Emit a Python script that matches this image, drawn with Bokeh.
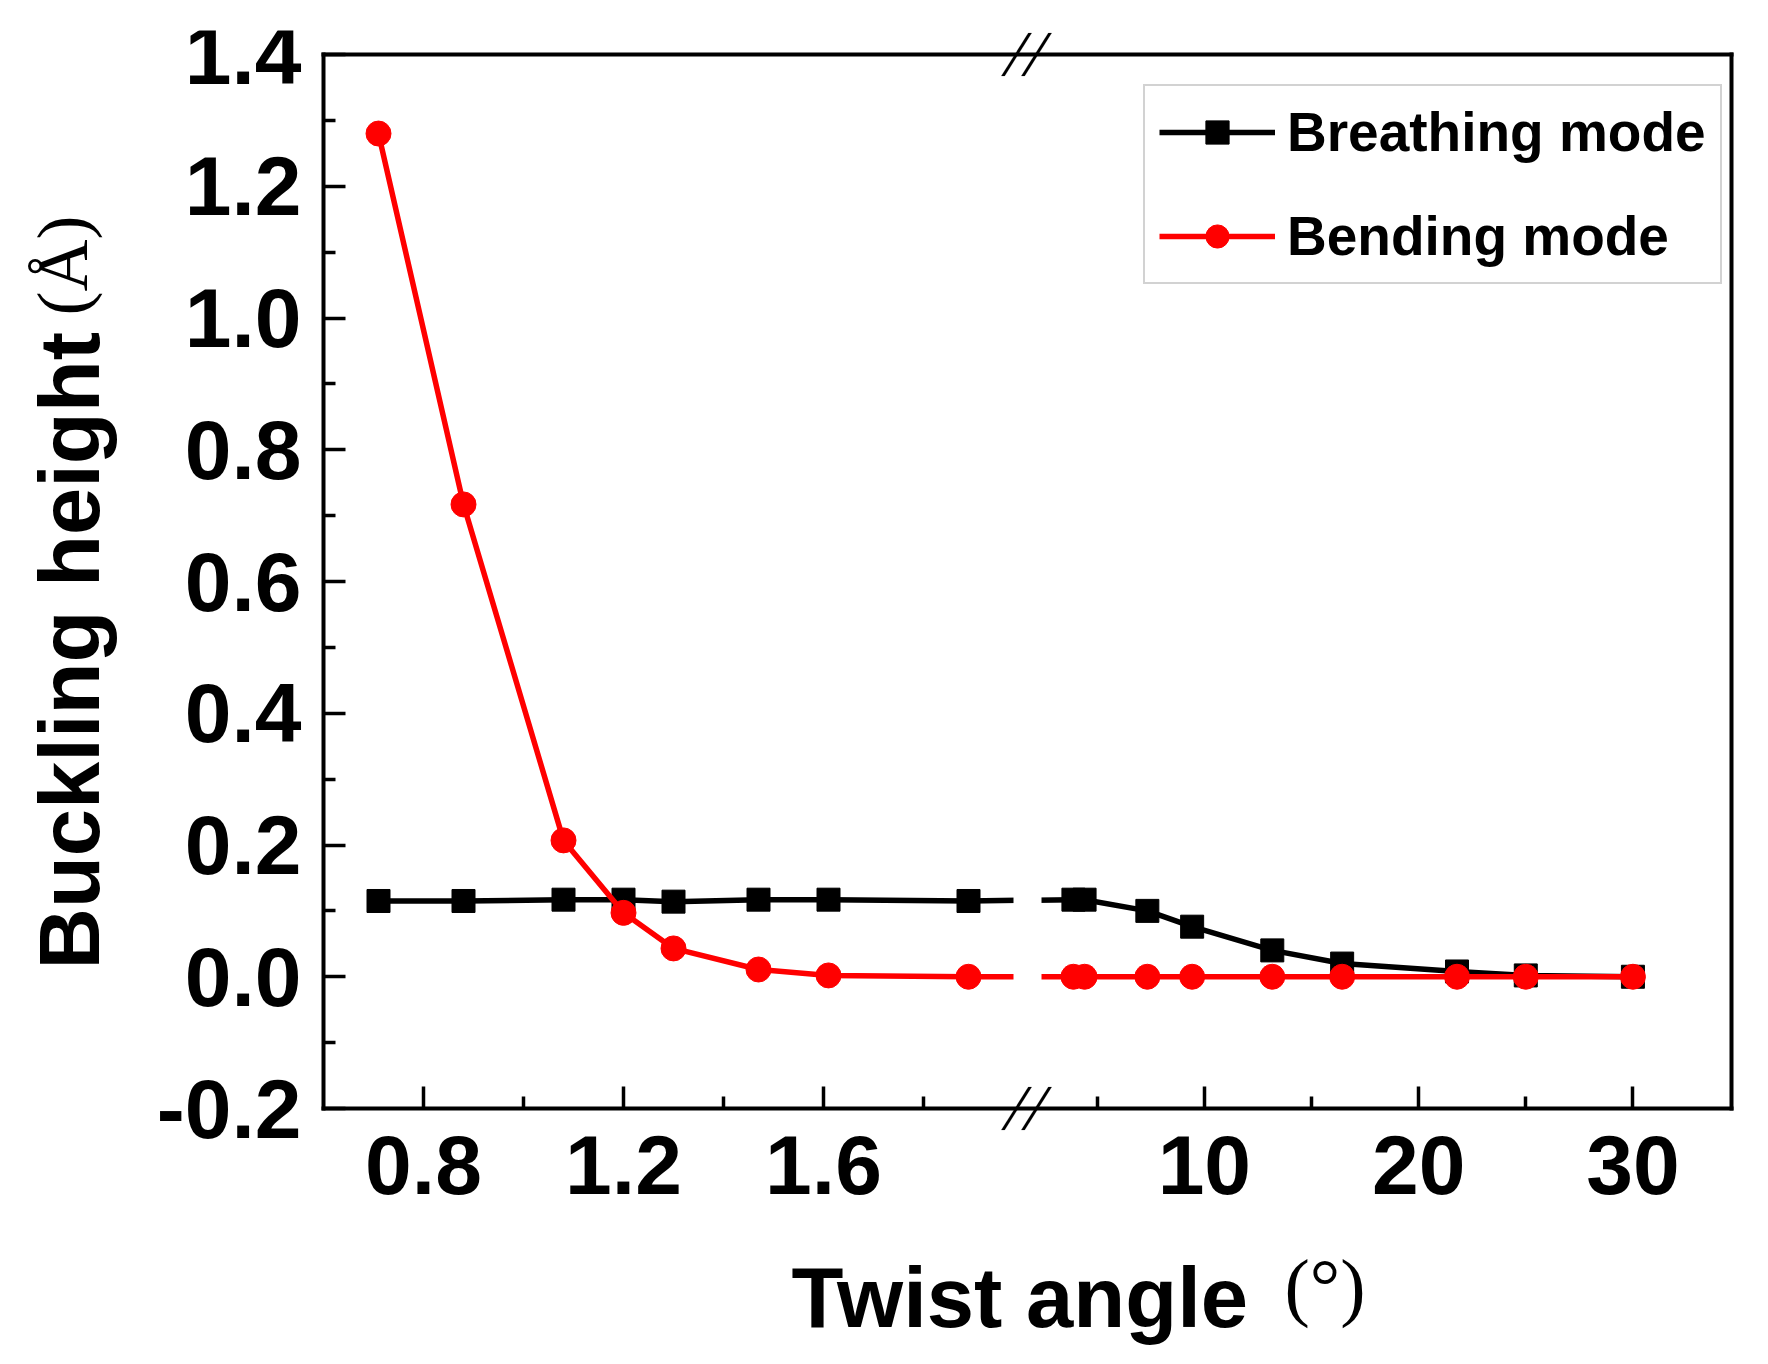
import math
from bokeh.plotting import figure
from bokeh.models import (ColumnDataSource, Range1d, FixedTicker, CustomJSTickFormatter,
                          CustomJSTransform, BoxAnnotation, PolyAnnotation, Label,
                          Legend, LegendItem, PrintfTickFormatter, LinearAxis)
from bokeh.transform import transform
from bokeh.embed import file_html
from bokeh.resources import INLINE

# ---------------- data ----------------
angles = [0.71, 0.88, 1.08, 1.20, 1.30, 1.47, 1.61, 1.89,
          3.89, 4.41, 7.34, 9.43, 13.17, 16.43, 21.79, 25.0, 30.0]
breathing = [0.115, 0.115, 0.117, 0.117, 0.114, 0.117, 0.117, 0.115,
             0.117, 0.117, 0.100, 0.076, 0.040, 0.020, 0.008, 0.002, 0.0]
bending = [1.28, 0.717, 0.207, 0.097, 0.043, 0.011, 0.002, 0.0,
           0.0, 0.0, 0.0, 0.0, 0.0, 0.0, 0.0, 0.0, 0.0]

x_major_ticks = [0.8, 1.2, 1.6, 10, 20, 30]
x_minor_ticks = [1.0, 1.4, 1.8, 5, 15, 25]
y_major_ticks = [-0.2, 0.0, 0.2, 0.4, 0.6, 0.8, 1.0, 1.2, 1.4]
y_minor_ticks = [-0.1, 0.1, 0.3, 0.5, 0.7, 0.9, 1.1, 1.3]
y_lo, y_hi = -0.2, 1.4

# ---------------- geometry of the broken x axis ----------------
W, H = 1752, 1348                 # canvas
box_left, box_top, box_h = 323, 54, 1054
box_bottom = box_top + box_h
seg1 = (0.6, 1.98)
seg2 = (2.4, 34.6)
seg1_px, gap_px, seg2_px = 690, 28, 690
total_px = seg1_px + gap_px + seg2_px
k1 = seg1_px / (seg1[1] - seg1[0])
k2 = seg2_px / (seg2[1] - seg2[0])
off = seg1_px + gap_px
ppu = box_h / (y_hi - y_lo)
frame_top = 30                    # frame reaches above the box for the "//" marks


def to_axis(v):
    return (v - seg1[0]) * k1 if v <= seg1[1] else off + (v - seg2[0]) * k2


targs = dict(a0=seg1[0], a1=seg1[1], b0=seg2[0], k1=k1, k2=k2, off=off)
brk = CustomJSTransform(
    args=targs,
    func="return x <= a1 ? (x - a0) * k1 : off + (x - b0) * k2;",
    v_func="""
const out = new Array(xs.length);
for (let i = 0; i < xs.length; i++) {
  const x = xs[i];
  out[i] = x <= a1 ? (x - a0) * k1 : off + (x - b0) * k2;
}
return out;
""")

FONT = "Liberation Sans"
SERIF = "Liberation Serif"

p = figure(width=W, height=H,
           x_range=Range1d(-box_left, W - box_left),
           y_range=Range1d(y_lo - (H - box_bottom) / ppu, y_hi + (box_top - frame_top) / ppu),
           output_backend="svg", toolbar_location=None,
           min_border_left=0, min_border_right=0,
           min_border_top=frame_top, min_border_bottom=0)
p.xgrid.visible = False
p.ygrid.visible = False
p.outline_line_color = None
p.background_fill_color = "white"
p.border_fill_color = "white"

src = ColumnDataSource(dict(x=angles, breathing=breathing, bending=bending))
xt = transform("x", brk)

lb = p.line(x=xt, y="breathing", source=src, line_color="black", line_width=5.5)
sb = p.scatter(x=xt, y="breathing", source=src, marker="square", size=23,
               fill_color="black", line_color="black")
lr = p.line(x=xt, y="bending", source=src, line_color="#ff0000", line_width=5.5)
sr = p.scatter(x=xt, y="bending", source=src, marker="circle", size=25,
               fill_color="#ff0000", line_color="#ff0000")

# gap of the axis break and the "//" marks
inset = 4 / ppu
p.add_layout(BoxAnnotation(left=seg1_px, right=off, bottom=y_lo + inset, top=y_hi - inset,
                           fill_color="white", fill_alpha=1.0, line_alpha=0.0))
dy = 21.5 / ppu
hw = 1.7
for xe in (seg1_px + 3, off - 5):
    for ye in (y_lo, y_hi):
        p.add_layout(PolyAnnotation(
            xs=[xe - 13.5 - hw, xe - 13.5 + hw, xe + 13.5 + hw, xe + 13.5 - hw],
            ys=[ye - dy, ye - dy, ye + dy, ye + dy],
            fill_color="black", fill_alpha=1.0, line_color="black", line_width=0.5))

# ---------------- axes (box drawn by four axis lines) ----------------
ext = 2
xbounds = (-ext, total_px + ext)
ybounds = (y_lo - ext / ppu, y_hi + ext / ppu)

xa = p.xaxis[0]
xa.fixed_location = y_lo
xa.bounds = xbounds
xa.ticker = FixedTicker(ticks=[to_axis(v) for v in x_major_ticks],
                        minor_ticks=[to_axis(v) for v in x_minor_ticks])
xa.formatter = CustomJSTickFormatter(
    args=dict(s1=seg1_px + gap_px / 2, **targs),
    code="""
const v = tick <= s1 ? a0 + tick / k1 : b0 + (tick - off) / k2;
return v < 5 ? v.toFixed(1) : v.toFixed(0);
""")
xa.major_label_standoff = 27

ya = p.yaxis[0]
ya.fixed_location = 0
ya.bounds = ybounds
ya.ticker = FixedTicker(ticks=y_major_ticks, minor_ticks=y_minor_ticks)
ya.formatter = PrintfTickFormatter(format="%.1f")
ya.major_label_standoff = 22

for ax in (xa, ya):
    ax.axis_line_color = "black"
    ax.axis_line_width = 4
    ax.major_tick_in = 22
    ax.major_tick_out = 0
    ax.minor_tick_in = 12
    ax.minor_tick_out = 0
    ax.major_tick_line_color = "black"
    ax.minor_tick_line_color = "black"
    ax.major_tick_line_width = 3.5
    ax.minor_tick_line_width = 3.5
    ax.major_label_text_font = FONT
    ax.major_label_text_font_style = "bold"
    ax.major_label_text_font_size = "84px"
    ax.major_label_text_color = "black"

top_ax = LinearAxis(fixed_location=y_hi, bounds=xbounds, ticker=FixedTicker(ticks=[]),
                    axis_line_color="black", axis_line_width=4,
                    major_tick_line_color=None, minor_tick_line_color=None)
right_ax = LinearAxis(fixed_location=total_px, bounds=ybounds, ticker=FixedTicker(ticks=[]),
                      axis_line_color="black", axis_line_width=4,
                      major_tick_line_color=None, minor_tick_line_color=None)
p.add_layout(top_ax, "above")
p.add_layout(right_ax, "right")


# ---------------- axis titles ----------------
def lab(text, x, y, font, style, size, angle=0.0):
    p.add_layout(Label(x=x, y=y, text=text, angle=angle, text_font=font,
                       text_font_style=style, text_font_size=size, text_color="black",
                       text_align="left", text_baseline="alphabetic"))


lab("Twist angle", 468, y_lo - 189 / ppu, FONT, "bold", "85px")
lab("(°)", 961, y_lo - 177 / ppu, SERIF, "normal", "76px")
lab("Buckling height", -254, y_lo + 139 / ppu, FONT, "bold", "85px", math.pi / 2)
lab("(Å)", -261, y_lo + 793 / ppu, SERIF, "normal", "72px", math.pi / 2)

# ---------------- legend ----------------
legend = Legend(items=[LegendItem(label="Breathing mode", renderers=[lb, sb]),
                       LegendItem(label="Bending mode", renderers=[lr, sr])],
                location=(1143, 1064), padding=14, spacing=40,
                glyph_width=116, glyph_height=58, label_height=58, label_standoff=12,
                label_text_font=FONT, label_text_font_style="bold",
                label_text_font_size="55px", label_text_color="black",
                border_line_color="#a6a6a6", border_line_width=2.5,
                background_fill_color="white", background_fill_alpha=1.0)
p.add_layout(legend)

open("out.html", "w").write(file_html(p, INLINE))
